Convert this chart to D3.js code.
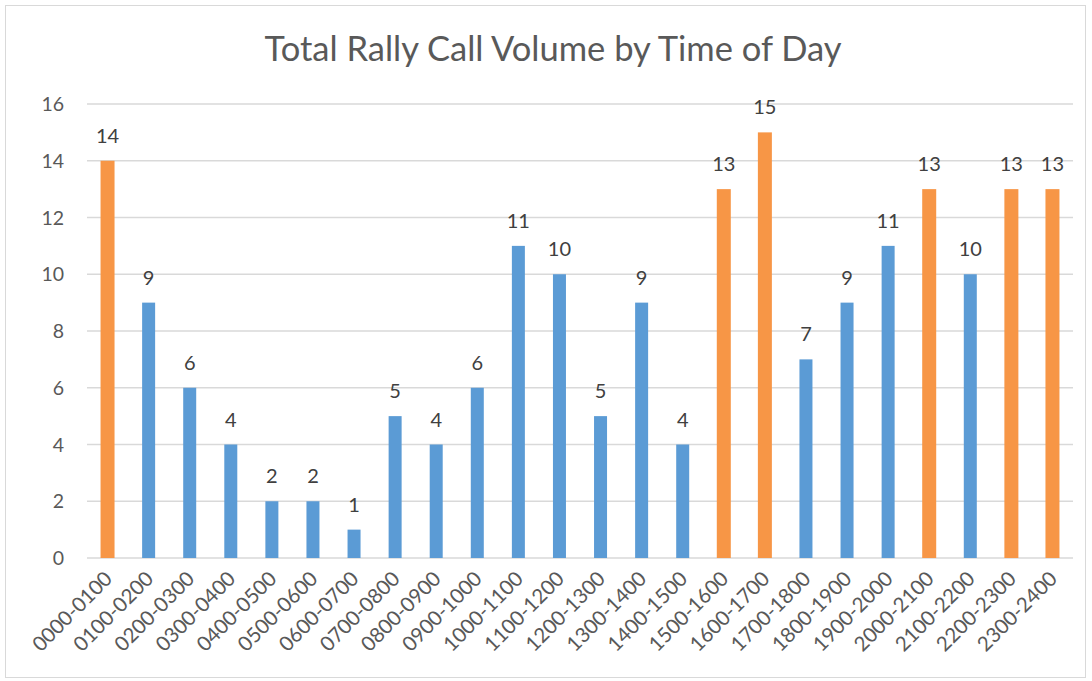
<!DOCTYPE html>
<html>
<head>
<meta charset="utf-8">
<script src="https://cdn.jsdelivr.net/npm/d3@7"></script>
<style>
  body { margin: 0; background: #fff; }
  text { font-family: Lato, "Open Sans", sans-serif; }
</style>
</head>
<body>
<svg width="1092" height="681"></svg>
<script>
const slots = ['0000-0100', '0100-0200', '0200-0300', '0300-0400', '0400-0500', '0500-0600',
  '0600-0700', '0700-0800', '0800-0900', '0900-1000', '1000-1100', '1100-1200',
  '1200-1300', '1300-1400', '1400-1500', '1500-1600', '1600-1700', '1700-1800',
  '1800-1900', '1900-2000', '2000-2100', '2100-2200', '2200-2300', '2300-2400'];
const calls = [14, 9, 6, 4, 2, 2, 1, 5, 4, 6, 11, 10, 5, 9, 4, 13, 15, 7, 9, 11, 13, 10, 13, 13];
const yTicks = [0, 2, 4, 6, 8, 10, 12, 14, 16];
const highlight = 13; // busy hours in orange

const svg = d3.select('svg');
const plotLeft = 87, plotRight = 1073, plotTop = 104, plotBottom = 558;

// chart border
svg.append('rect')
  .attr('x', 5.5).attr('y', 5.5).attr('width', 1080).attr('height', 672)
  .attr('fill', 'none').attr('stroke', '#d9d9d9');

svg.append('text')
  .attr('x', 553).attr('y', 61)
  .attr('text-anchor', 'middle')
  .attr('font-size', 34.5)
  .attr('fill', '#595959')
  .text('Total Rally Call Volume by Time of Day');

const x = d3.scaleBand().domain(slots).range([plotLeft, plotRight]);
const y = d3.scaleLinear().domain([0, 16]).range([plotBottom, plotTop]);

// gridlines
svg.append('g').selectAll('line')
  .data(yTicks)
  .join('line')
  .attr('x1', plotLeft).attr('x2', plotRight)
  .attr('y1', d => y(d)).attr('y2', d => y(d))
  .attr('stroke', '#d9d9d9').attr('stroke-width', 1.5);

svg.append('g').selectAll('text')
  .data(yTicks)
  .join('text')
  .attr('x', 64).attr('y', d => y(d) + 7)
  .attr('text-anchor', 'end')
  .attr('font-size', 19.5)
  .attr('fill', '#595959')
  .text(d => d);

const data = slots.map((s, i) => ({ slot: s, v: calls[i] }));
const barW = d => (d.v >= highlight ? 14 : 13);

svg.append('g').selectAll('rect')
  .data(data)
  .join('rect')
  .attr('x', d => x(d.slot) + x.bandwidth() / 2 - barW(d) / 2)
  .attr('width', barW)
  .attr('y', d => y(d.v))
  .attr('height', d => y(0) - y(d.v))
  .attr('fill', d => (d.v >= highlight ? '#f79646' : '#5b9bd5'));

// value labels
svg.append('g').selectAll('text')
  .data(data)
  .join('text')
  .attr('x', d => x(d.slot) + x.bandwidth() / 2)
  .attr('y', d => y(d.v) - 18)
  .attr('text-anchor', 'middle')
  .attr('font-size', 20)
  .attr('fill', '#404040')
  .text(d => d.v);

// rotated category labels
svg.append('g').selectAll('text')
  .data(slots)
  .join('text')
  .attr('transform', d => `translate(${x(d) + x.bandwidth() / 2 + 6},${plotBottom + 22}) rotate(-45)`)
  .attr('text-anchor', 'end')
  .attr('font-size', 20.5)
  .attr('fill', '#595959')
  .text(d => d);
</script>
</body>
</html>
